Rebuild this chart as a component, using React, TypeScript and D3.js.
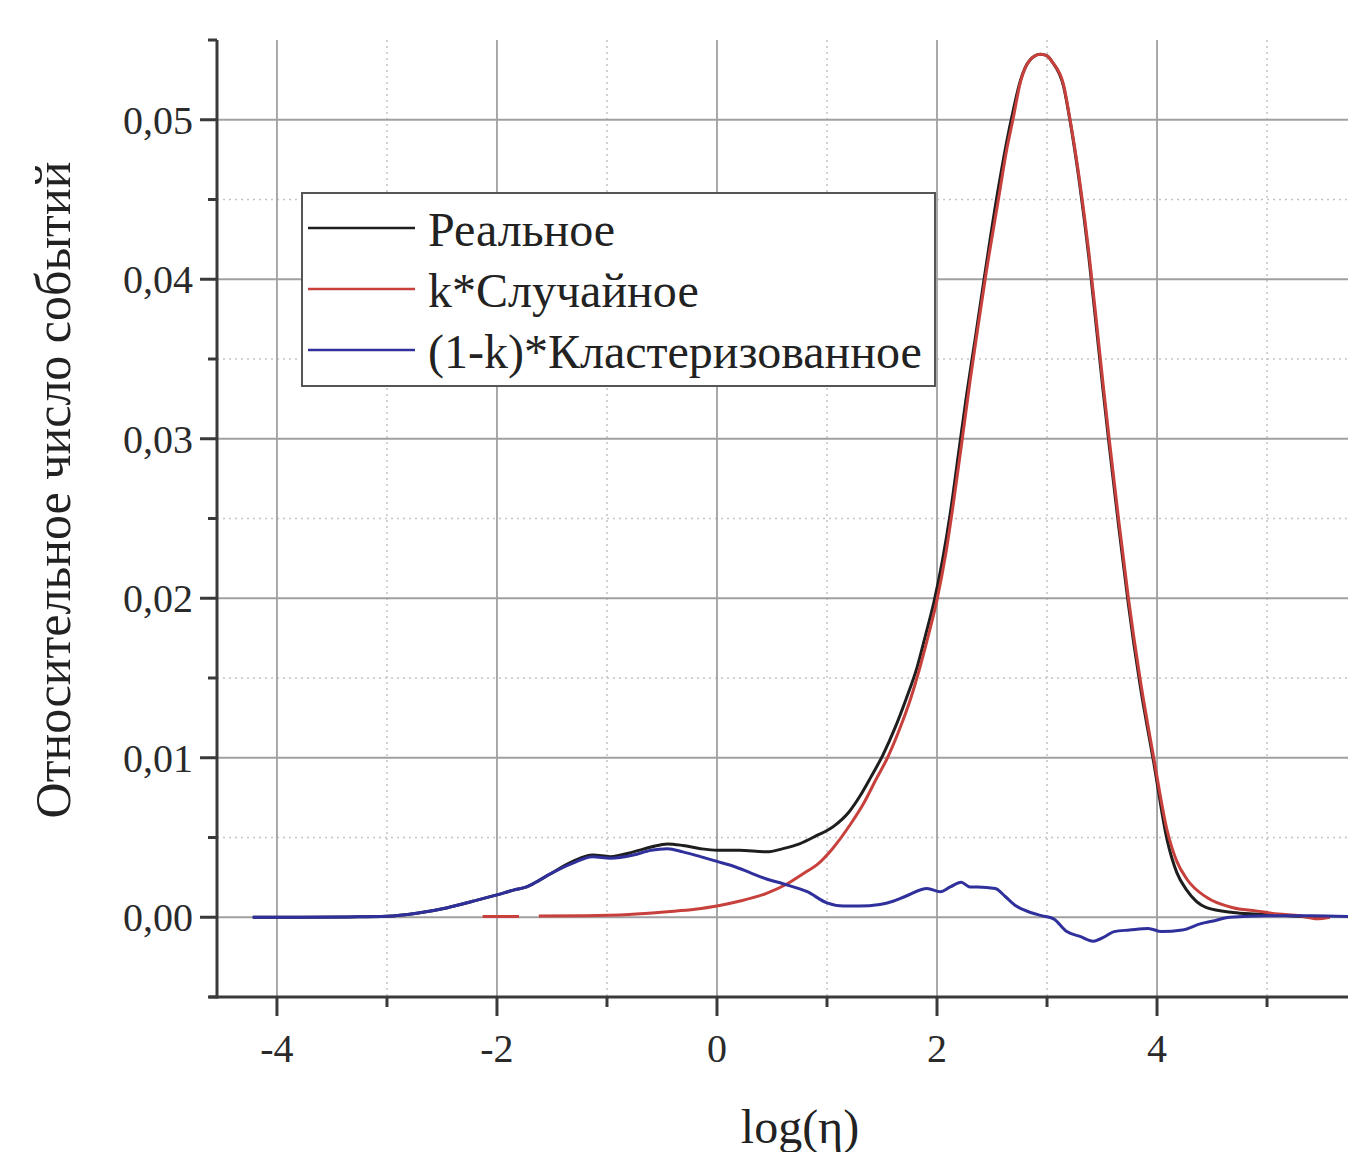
import React from 'react';
import * as d3 from 'd3';

// axis ticks
const xMajor = [-4, -2, 0, 2, 4];
const xMinor = [-3, -1, 1, 3, 5];
const xLabels = ['-4', '-2', '0', '2', '4'];
const yMajor = [0, 0.01, 0.02, 0.03, 0.04, 0.05];
const yMinor = [-0.005, 0.005, 0.015, 0.025, 0.035, 0.045, 0.055];
const yLabels = ['0,00', '0,01', '0,02', '0,03', '0,04', '0,05'];

const seriesNames = ['Реальное', 'k*Случайное', '(1-k)*Кластеризованное'];
const seriesColors = ['#1e1e1e', '#c8403c', '#30309c'];

// [log(eta), relative count]; null marks a gap in the line
const real: [number, number][] = [
  [-4.22, 0], [-3.8, 0], [-3.34, 0.00002], [-3.0, 0.00006], [-2.73, 0.00025], [-2.45, 0.0006],
  [-2.22, 0.001], [-2.0, 0.0014], [-1.85, 0.0017], [-1.73, 0.0019], [-1.62, 0.0023], [-1.52, 0.0027],
  [-1.31, 0.0035], [-1.13, 0.0039], [-0.97, 0.0038], [-0.76, 0.0041], [-0.6, 0.0044], [-0.45, 0.0046],
  [-0.31, 0.0045], [-0.15, 0.0043], [0, 0.0042], [0.2, 0.0042], [0.45, 0.0041], [0.6, 0.0043],
  [0.75, 0.0046], [0.9, 0.0051], [1.06, 0.0057], [1.2, 0.0066], [1.3, 0.0076], [1.4, 0.0088],
  [1.51, 0.0102], [1.62, 0.0119], [1.72, 0.0137], [1.82, 0.0157], [1.9, 0.0178], [1.97, 0.0197],
  [2.05, 0.0224], [2.12, 0.0253], [2.2, 0.0293], [2.27, 0.0328], [2.35, 0.0364], [2.43, 0.0401],
  [2.55, 0.0454], [2.63, 0.0485], [2.69, 0.0505], [2.76, 0.0525], [2.84, 0.0537], [2.94, 0.0541],
  [3.0, 0.054], [3.05, 0.0536], [3.15, 0.0521], [3.21, 0.0499], [3.3, 0.0458], [3.38, 0.0414],
  [3.45, 0.0369], [3.51, 0.033], [3.565, 0.0296], [3.65, 0.0246], [3.74, 0.0196], [3.845, 0.0146],
  [3.97, 0.0097], [4.09, 0.0049], [4.18, 0.0028], [4.27, 0.0017], [4.45, 0.0006], [4.69, 0.0003],
  [4.9, 0.0002], [5.2, 0.0001], [5.46, 0], [5.57, 0],
];

const random: [number, number | null][] = [
  [-2.13, 0.00005], [-1.8, 0.00005], [-1.7, null], [-1.62, 0.00008], [-1.2, 0.0001], [-0.8, 0.00018],
  [-0.45, 0.00035], [-0.2, 0.0005], [0, 0.0007], [0.2, 0.001], [0.45, 0.0015], [0.64, 0.0021],
  [0.8, 0.0028], [0.91, 0.0033], [1.05, 0.0043], [1.21, 0.0058], [1.33, 0.0071], [1.45, 0.0087],
  [1.55, 0.01], [1.66, 0.0118], [1.76, 0.0137], [1.85, 0.0158], [1.93, 0.0179], [2.0, 0.0199],
  [2.08, 0.0228], [2.15, 0.026], [2.23, 0.03], [2.3, 0.0336], [2.37, 0.0369], [2.44, 0.0401],
  [2.57, 0.0455], [2.63, 0.048], [2.69, 0.05], [2.76, 0.0524], [2.84, 0.0537], [2.94, 0.0541],
  [3.0, 0.054], [3.05, 0.0536], [3.15, 0.0522], [3.21, 0.05], [3.3, 0.046], [3.38, 0.0417],
  [3.45, 0.0373], [3.51, 0.0334], [3.565, 0.03], [3.65, 0.025], [3.74, 0.02], [3.845, 0.015],
  [3.97, 0.01], [4.09, 0.0055], [4.18, 0.0035], [4.27, 0.0024], [4.45, 0.00125], [4.69, 0.0006],
  [4.9, 0.0004], [5.1, 0.0002], [5.3, 0.0001], [5.45, -0.0001], [5.57, 0],
];

const clustered: [number, number][] = [
  [-4.22, 0], [-3.8, 0], [-3.34, 0.00002], [-3.0, 0.00006], [-2.73, 0.00025], [-2.45, 0.0006],
  [-2.22, 0.001], [-2.0, 0.0014], [-1.85, 0.0017], [-1.73, 0.0019], [-1.62, 0.0023], [-1.52, 0.0027],
  [-1.31, 0.0034], [-1.13, 0.0038], [-0.97, 0.0037], [-0.76, 0.0039], [-0.6, 0.0042], [-0.45, 0.0043],
  [-0.31, 0.0041], [-0.15, 0.0038], [0, 0.0035], [0.15, 0.0032], [0.3, 0.0028], [0.45, 0.0024],
  [0.6, 0.0021], [0.82, 0.0016], [1.0, 0.0009], [1.15, 0.0007], [1.29, 0.0007], [1.48, 0.0008],
  [1.6, 0.001], [1.71, 0.0013], [1.91, 0.0018], [2.03, 0.0016], [2.12, 0.0019], [2.22, 0.0022],
  [2.3, 0.0019], [2.37, 0.0019], [2.53, 0.0018], [2.62, 0.0013], [2.72, 0.0007], [2.85, 0.0003],
  [2.95, 0.0001], [3.06, -0.0001], [3.18, -0.0009], [3.3, -0.0012], [3.42, -0.0015], [3.53, -0.0012],
  [3.61, -0.0009], [3.75, -0.0008], [3.92, -0.0007], [4.04, -0.0009], [4.23, -0.0008], [4.4, -0.0004],
  [4.5, -0.00025], [4.66, 0], [5.0, 0.0001], [5.4, 0.0001], [5.74, 0.00005],
];

const W = 1348;
const H = 1152;
const left = 217;
const right = 1348;
const top = 40;
const bottom = 997;
const font = '"Liberation Serif", "Times New Roman", serif';

const App = () => {
  const x = d3.scaleLinear().domain([-4.545, 5.736]).range([left, right]);
  const y = d3.scaleLinear().domain([-0.005, 0.055]).range([bottom, top]);

  const line = d3.line<[number, number | null]>()
    .defined(d => d[1] !== null)
    .x(d => x(d[0]))
    .y(d => y(d[1] as number))
    .curve(d3.curveMonotoneX);

  const series = [real, random, clustered];

  return (
    <svg width={W} height={H} style={{ position: 'absolute', left: 0, top: 0, background: '#fff' }}>
      <defs>
        <clipPath id="plot">
          <rect x={left} y={top - 5} width={right - left} height={bottom - top + 5} />
        </clipPath>
      </defs>

      {/* grid */}
      {xMinor.map(v => (
        <line key={'xm' + v} x1={x(v)} x2={x(v)} y1={top} y2={bottom}
          stroke="#c4c4c4" strokeWidth={1.5} strokeDasharray="2,4" />
      ))}
      {yMinor.filter(v => v > 0 && v < 0.05).map(v => (
        <line key={'ym' + v} x1={left} x2={right} y1={y(v)} y2={y(v)}
          stroke="#c4c4c4" strokeWidth={1.5} strokeDasharray="2,4" />
      ))}
      {xMajor.map(v => (
        <line key={'xg' + v} x1={x(v)} x2={x(v)} y1={top} y2={bottom}
          stroke="#a0a0a0" strokeWidth={1.8} />
      ))}
      {yMajor.map(v => (
        <line key={'yg' + v} x1={left} x2={right} y1={y(v)} y2={y(v)}
          stroke="#a0a0a0" strokeWidth={1.8} />
      ))}

      {/* curves */}
      <g clipPath="url(#plot)">
        {series.map((s, i) => (
          <path key={i} d={line(s as [number, number | null][]) || ''} fill="none"
            stroke={seriesColors[i]} strokeWidth={3} strokeLinejoin="round" />
        ))}
      </g>

      {/* axes */}
      <line x1={left} x2={left} y1={top} y2={bottom + 1.5} stroke="#3a3a3a" strokeWidth={3} />
      <line x1={left - 8} x2={right} y1={bottom} y2={bottom} stroke="#3a3a3a" strokeWidth={3} />
      {yMajor.map(v => (
        <line key={'yt' + v} x1={left - 17} x2={left} y1={y(v)} y2={y(v)} stroke="#3a3a3a" strokeWidth={3} />
      ))}
      {yMinor.map(v => (
        <line key={'ytm' + v} x1={left - 9} x2={left} y1={y(v)} y2={y(v)} stroke="#3a3a3a" strokeWidth={3} />
      ))}
      {xMajor.map(v => (
        <line key={'xt' + v} x1={x(v)} x2={x(v)} y1={bottom} y2={bottom + 19} stroke="#3a3a3a" strokeWidth={3} />
      ))}
      {xMinor.map(v => (
        <line key={'xtm' + v} x1={x(v)} x2={x(v)} y1={bottom} y2={bottom + 10} stroke="#3a3a3a" strokeWidth={3} />
      ))}

      {/* tick labels */}
      {yMajor.map((v, i) => (
        <text key={'yl' + v} x={193} y={y(v)} dy="0.35em" textAnchor="end"
          fontFamily={font} fontSize={40} fill="#2a2a2a">{yLabels[i]}</text>
      ))}
      {xMajor.map((v, i) => (
        <text key={'xl' + v} x={x(v)} y={1062} textAnchor="middle"
          fontFamily={font} fontSize={40} fill="#2a2a2a">{xLabels[i]}</text>
      ))}

      {/* axis titles */}
      <text x={800} y={1143} textAnchor="middle" fontFamily={font} fontSize={48} fill="#222">log(η)</text>
      <text transform="translate(70,490) rotate(-90)" textAnchor="middle"
        fontFamily={font} fontSize={50} fill="#222">Относительное число событий</text>

      {/* legend */}
      <rect x={302} y={193} width={633} height={193} fill="#fff" stroke="#555" strokeWidth={2} />
      {seriesNames.map((name, i) => (
        <g key={name} transform={`translate(0, ${228 + i * 61})`}>
          <line x1={308} x2={415} y1={0} y2={0} stroke={seriesColors[i]} strokeWidth={2.6} />
          <text x={428} y={18} fontFamily={font} fontSize={48} fill="#222">{name}</text>
        </g>
      ))}
    </svg>
  );
};

export default App;
